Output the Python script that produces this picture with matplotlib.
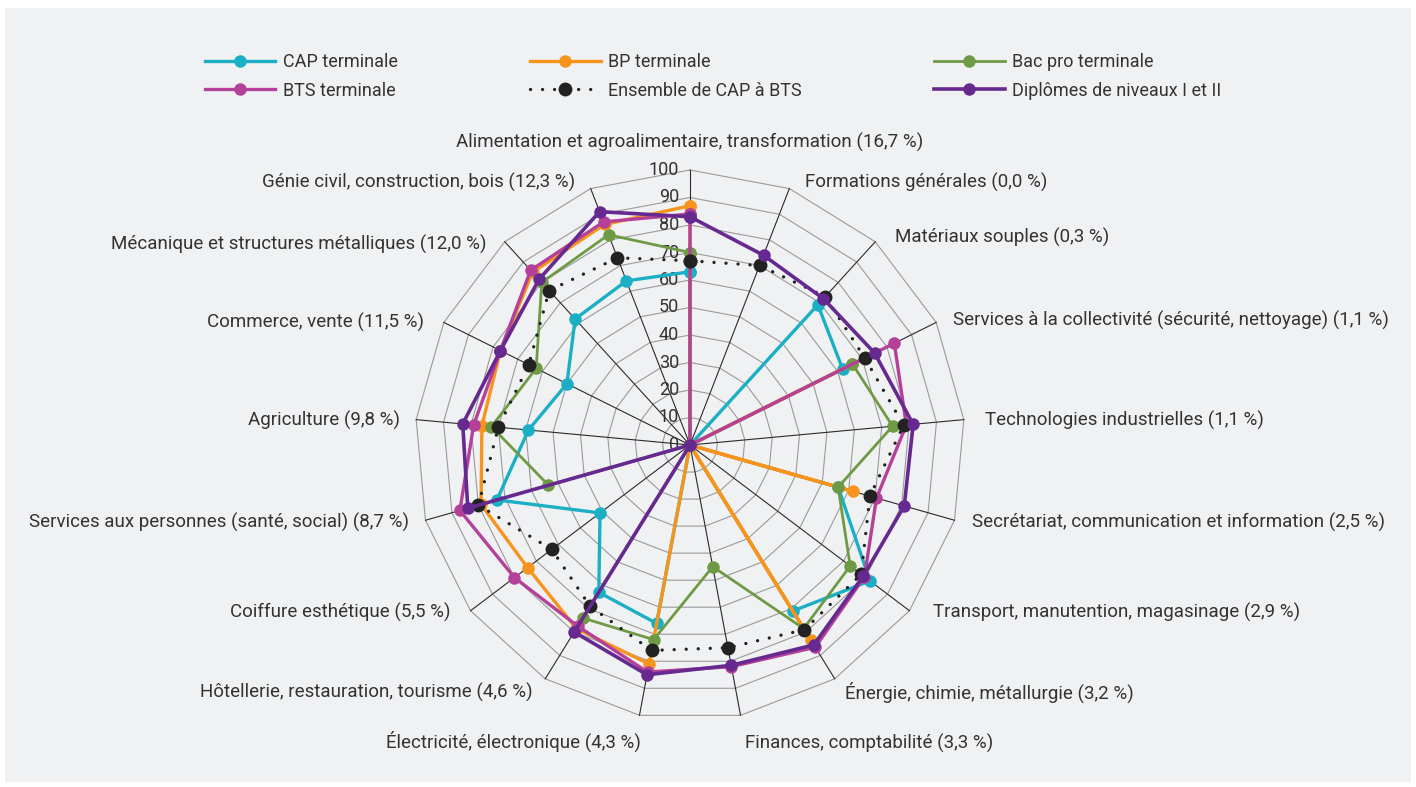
import numpy as np
import matplotlib
matplotlib.use("Agg")
import matplotlib.pyplot as plt
from matplotlib.patches import Rectangle

plt.rcParams['font.family'] = ['Roboto', 'DejaVu Sans']

# categories, clockwise from the top
categories = [
    "Alimentation et agroalimentaire, transformation (16,7 %)",
    "Formations générales (0,0 %)",
    "Matériaux souples (0,3 %)",
    "Services à la collectivité (sécurité, nettoyage) (1,1 %)",
    "Technologies industrielles (1,1 %)",
    "Secrétariat, communication et information (2,5 %)",
    "Transport, manutention, magasinage (2,9 %)",
    "Énergie, chimie, métallurgie (3,2 %)",
    "Finances, comptabilité (3,3 %)",
    "Électricité, électronique (4,3 %)",
    "Hôtellerie, restauration, tourisme (4,6 %)",
    "Coiffure esthétique (5,5 %)",
    "Services aux personnes (santé, social) (8,7 %)",
    "Agriculture (9,8 %)",
    "Commerce, vente (11,5 %)",
    "Mécanique et structures métalliques (12,0 %)",
    "Génie civil, construction, bois (12,3 %)",
]

cap = [63, 0, 69, 62, 0, 56, 82, 71, 0, 66, 63, 41, 73, 59, 50, 62, 64]
bp = [87, 0, 0, 66, 0, 61.5, 0, 83.5, 0, 81, 78.5, 74, 79, 76, 77, 85, 86]
bac_pro = [70, 0, 0, 66, 74, 56, 73, 78.5, 45, 72, 74, 0, 53.5, 72.5, 62.5, 80, 82]
bts = [84, 0, 0, 83, 79, 70.5, 79.5, 86.5, 82, 84, 77.5, 80, 87, 79, 77, 86, 87]
ensemble = [67, 70, 73, 71, 78, 68, 78, 79, 75, 76, 69, 63, 80, 70, 65.5, 76, 73]
diplomes = [83, 74, 72, 75, 81.5, 81, 79, 85.5, 81.5, 85, 80, 0, 84, 83, 77, 81.5, 91]

ticks = [0, 10, 20, 30, 40, 50, 60, 70, 80, 90, 100]

# small pixel nudges for the category labels (dx right, dy down)
label_nudge = [(0, 0), (10, 9), (9, 8), (2, 5), (5, 2), (2, -2), (10, -8), (2, 0), (1, 12),
               (4, 10), (-4, 0), (-7, -8), (-1, -2), (0, 2), (-5, 7), (-7, 15), (-10, 9)]

n = len(categories)
angles = np.arange(n) * 2 * np.pi / n


def to_xy(values):
    v = np.asarray(values, dtype=float)
    v = np.append(v, v[0])
    a = np.append(angles, angles[0])
    return v * np.sin(a), v * np.cos(a)


W, H = 1416, 787
fig = plt.figure(figsize=(W / 100, H / 100), dpi=100)
fig.patch.set_facecolor('white')
fig.patches.append(Rectangle((5 / W, 5 / H), 1 - 10 / W, 1 - 13 / H,
                             transform=fig.transFigure, facecolor='#f0f1f3',
                             edgecolor='none', zorder=-10))

ax = fig.add_axes([0, 0, 1, 1])
ax.set_facecolor('none')
ax.set_zorder(1)
scale = 2.75  # px per unit
cx, cy = 690, 445
ax.set_xlim(-cx / scale, (W - cx) / scale)
ax.set_ylim(-(H - cy) / scale, cy / scale)
ax.axis('off')

# polygon grid
for t in ticks[1:]:
    gx, gy = to_xy([t] * n)
    ax.plot(gx, gy, color='#9a9a9a', lw=0.8, zorder=1)
for a in angles:
    ax.plot([0, 100 * np.sin(a)], [0, 100 * np.cos(a)], color='#2a2a2a', lw=0.8, zorder=1)

for t in ticks:
    ax.text(-4, t, str(t), ha='right', va='center', fontsize=13, color='#333333', zorder=2)

# category labels
for a, lab, (ndx, ndy) in zip(angles, categories, label_nudge):
    if abs(np.sin(a)) < 0.05:
        x, y = 0, 110.2
        ha = 'center'
    else:
        r = 106
        x = r * np.sin(a) + ndx / scale
        y = r * np.cos(a) - ndy / scale
        ha = 'left' if x > 0 else 'right'
    ax.text(x, y, lab, ha=ha, va='center', fontsize=13.5, color='#333333', zorder=2)

series = [
    ("CAP terminale", cap, '#1aafc4', '-', 2.4),
    ("BP terminale", bp, '#f7941d', '-', 2.4),
    ("Bac pro terminale", bac_pro, '#6f9a45', '-', 2.0),
    ("BTS terminale", bts, '#b5409a', '-', 2.4),
    ("Ensemble de CAP à BTS", ensemble, '#222222', (0, (0.01, 3.6)), 2.4),
    ("Diplômes de niveaux I et II", diplomes, '#66298f', '-', 2.6),
]

handles = []
for i, (name, vals, col, ls, lw) in enumerate(series):
    x, y = to_xy(vals)
    ms = 10 if name.startswith("Ensemble") else 9
    ln, = ax.plot(x, y, color=col, lw=lw, ls=ls, marker='o', ms=ms,
                  markeredgewidth=0, dash_capstyle='round', solid_joinstyle='round',
                  zorder=3 + i, label=name)
    handles.append(ln)

# legend is filled column by column -> reorder to read row by row
order = [0, 3, 1, 4, 2, 5]
leg = fig.legend(handles=[handles[i] for i in order], ncol=3, loc='upper left',
                 bbox_to_anchor=(196 / W, 1 - 44 / H), frameon=False,
                 fontsize=13, handlelength=3.9, handletextpad=0.4,
                 columnspacing=7.35, labelspacing=0.58, borderpad=0)
for t in leg.get_texts():
    t.set_color('#333333')

fig.savefig('out.png', dpi=100)
